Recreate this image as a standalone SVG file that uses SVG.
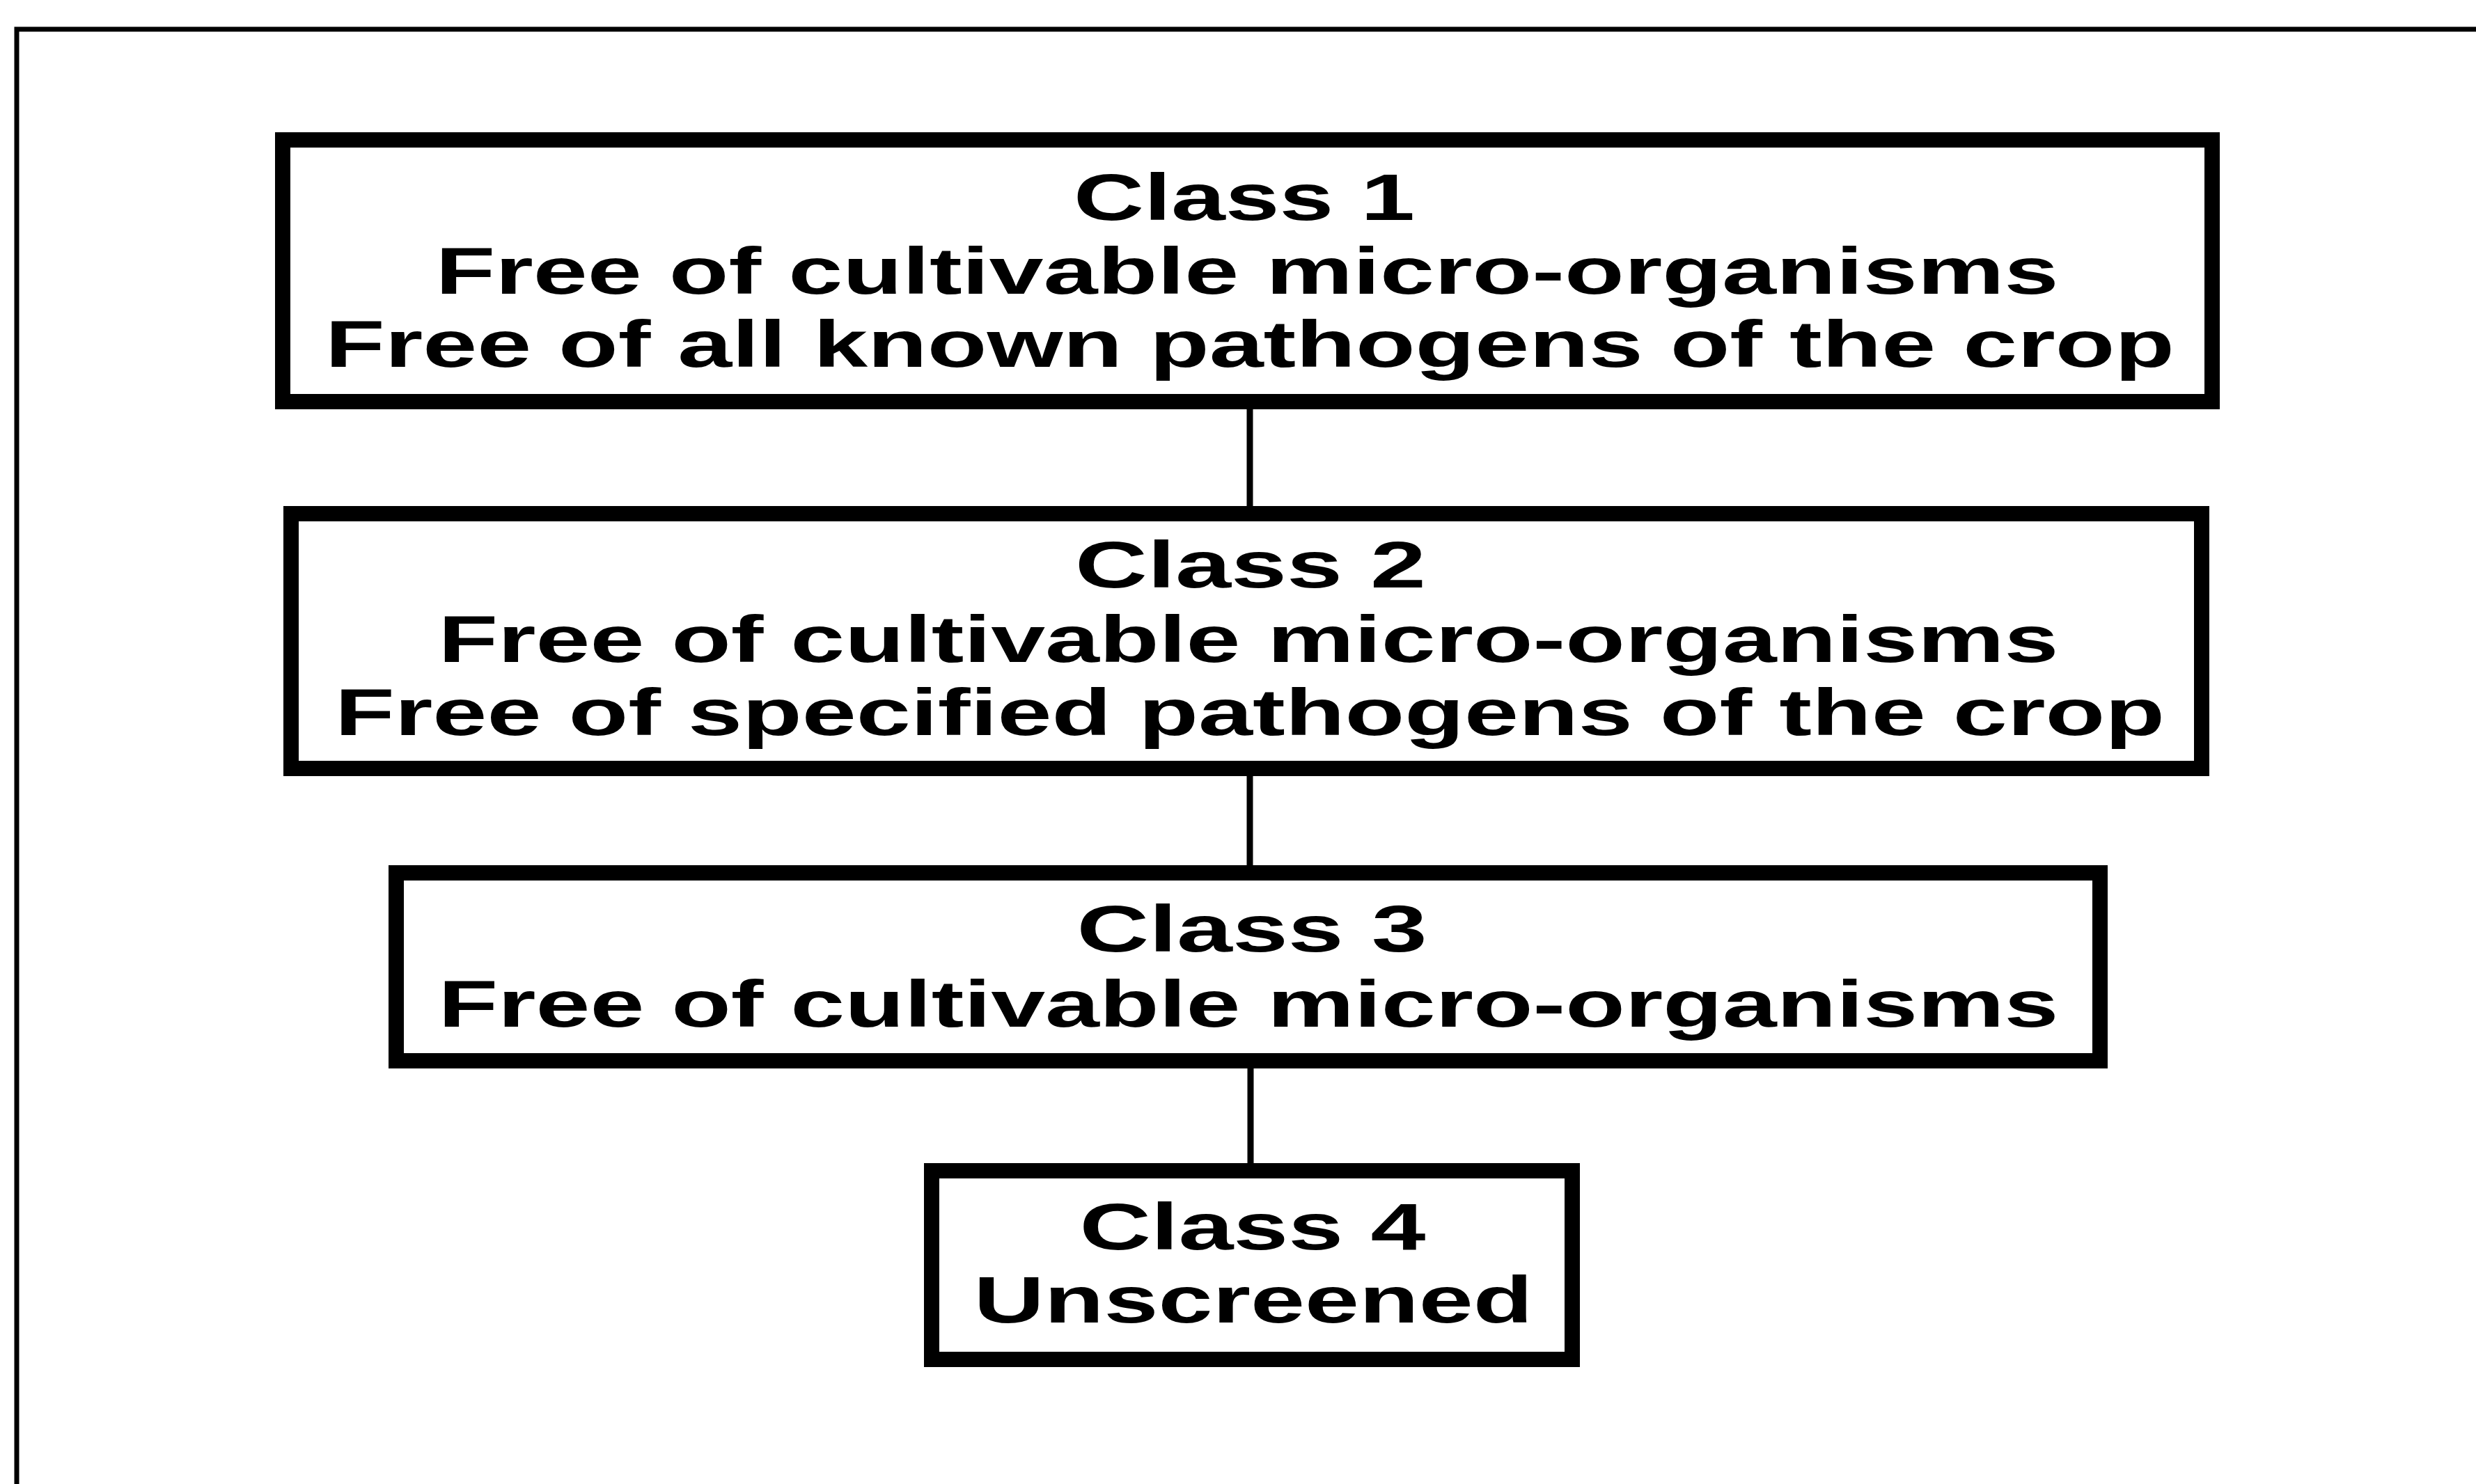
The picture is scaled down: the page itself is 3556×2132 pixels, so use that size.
<svg xmlns="http://www.w3.org/2000/svg" width="3556" height="2132" viewBox="0 0 3556 2132">
<style>
.box{fill:#fff;stroke:#000;stroke-width:22}
.frame{fill:none;stroke:#000;stroke-width:7}
.conn{stroke:#000;stroke-width:9;fill:none}
.t{font-family:"Liberation Sans",Arial,sans-serif;font-weight:bold;font-size:95px;fill:#000;text-anchor:middle}
</style>
<rect width="3556" height="2132" fill="#fff"/>
<path class="frame" d="M24,2200 V42 H3600"/>
<g id="connectors">
<line class="conn" x1="1795" y1="588" x2="1795" y2="727"/>
<line class="conn" x1="1795" y1="1115" x2="1795" y2="1243"/>
<line class="conn" x1="1796" y1="1535" x2="1796" y2="1671"/>
</g>
<g id="class1">
<rect class="box" x="406" y="201" width="2771" height="376"/>
<text class="t" x="1787" y="316" textLength="490" lengthAdjust="spacingAndGlyphs">Class 1</text>
<text class="t" x="1791" y="422" textLength="2331" lengthAdjust="spacingAndGlyphs">Free of cultivable micro-organisms</text>
<text class="t" x="1795" y="527" textLength="2656" lengthAdjust="spacingAndGlyphs">Free of all known pathogens of the crop</text>
</g>
<g id="class2">
<rect class="box" x="418" y="738" width="2744" height="366"/>
<text class="t" x="1796" y="844" textLength="504" lengthAdjust="spacingAndGlyphs">Class 2</text>
<text class="t" x="1793" y="951" textLength="2327" lengthAdjust="spacingAndGlyphs">Free of cultivable micro-organisms</text>
<text class="t" x="1795" y="1056" textLength="2628" lengthAdjust="spacingAndGlyphs">Free of specified pathogens of the crop</text>
</g>
<g id="class3">
<rect class="box" x="569" y="1254" width="2447" height="270"/>
<text class="t" x="1798" y="1367" textLength="503" lengthAdjust="spacingAndGlyphs">Class 3</text>
<text class="t" x="1793" y="1475" textLength="2327" lengthAdjust="spacingAndGlyphs">Free of cultivable micro-organisms</text>
</g>
<g id="class4">
<rect class="box" x="1338" y="1682" width="920" height="271"/>
<text class="t" x="1799" y="1795" textLength="497" lengthAdjust="spacingAndGlyphs">Class 4</text>
<text class="t" x="1800" y="1900" textLength="803" lengthAdjust="spacingAndGlyphs">Unscreened</text>
</g>
</svg>
